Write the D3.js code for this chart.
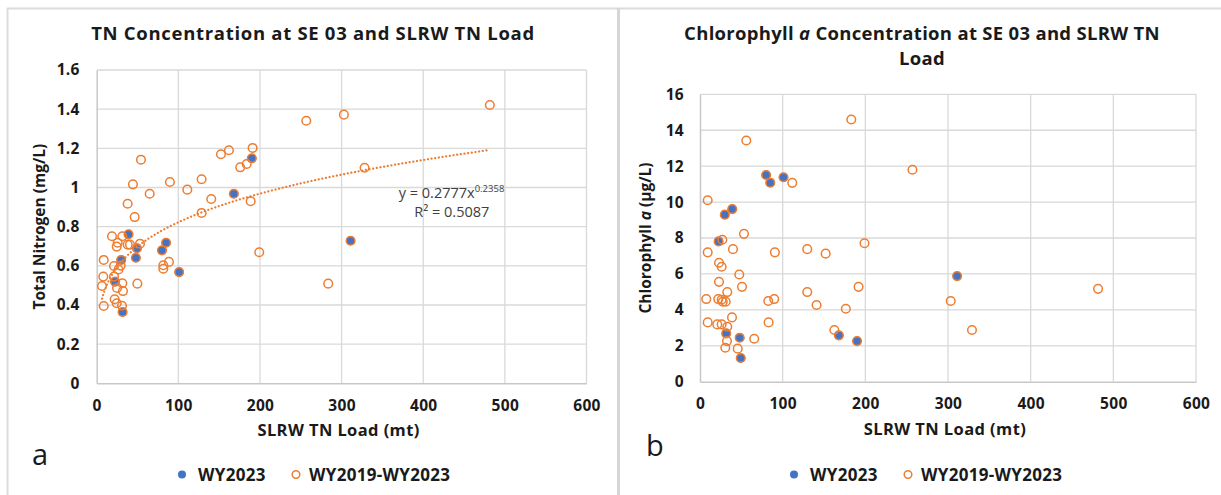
<!DOCTYPE html>
<html lang="en">
<head>
    <meta charset="UTF-8">
    <title>SE 03 and SLRW TN Load</title>
    <script src="https://cdn.jsdelivr.net/npm/d3@7"></script>
    <style>
        body {
            margin: 0;
            background: #fff;
        }

        text {
            font-family: "Open Sans", sans-serif;
            fill: #1a1a1a;
        }

        .tick text {
            font-size: 15.5px;
            font-weight: bold;
            letter-spacing: 0.3px;
        }

        .grid line {
            stroke: #d9d9d9;
            stroke-width: 1.3px;
        }

        .axis path {
            stroke: #c8c8c8;
            stroke-width: 1.5px;
        }

        .title, .axis-title, .legend text {
            font-weight: bold;
        }

        .title {
            font-size: 18.5px;
        }

        .legend text {
            font-size: 17px;
            letter-spacing: 0.3px;
        }
    </style>
</head>
<body>
<div id="svgcontainer"></div>

<script>
    const width = 1221;
    const height = 495;

    const BLUE = "#4472C4";
    const ORANGE = "#ED7D31";

    // tick values
    const xTicks = [0, 100, 200, 300, 400, 500, 600];
    const tnTicks = [0, 0.2, 0.4, 0.6, 0.8, 1, 1.2, 1.4, 1.6];
    const chlaTicks = [0, 2, 4, 6, 8, 10, 12, 14, 16];

    // WY2023 (same loads in both panels)
    const loadWY2023 = [22.5, 30, 31.7, 39, 48, 49.3, 80, 85, 101, 168, 190, 311];
    const tnWY2023 = [0.519, 0.630, 0.364, 0.761, 0.641, 0.690, 0.679, 0.718, 0.568, 0.968, 1.149, 0.728];
    const chlaWY2023 = [7.81, 9.30, 2.69, 9.61, 2.45, 1.32, 11.51, 11.08, 11.38, 2.58, 2.26, 5.88];

    // WY2019-WY2023, panel a (points not already in WY2023)
    const loadTN = [481.6, 302.8, 256.7, 191, 162, 152.2, 54.2, 175.8, 183.7, 328.1, 44.4, 89.7, 128.5, 111,
        64.9, 140.3, 188.6, 37.9, 128.5, 46.5, 18.7, 31.4, 25.7, 24.5, 38, 40.8, 53, 199.1, 8.6, 88.5, 81.6,
        81.6, 21.2, 29.4, 26.7, 8.1, 21.2, 6.5, 24.9, 31.4, 49.8, 283.6, 32.2, 22, 24.5, 8.6, 31];
    const tnAll = [1.421, 1.372, 1.341, 1.202, 1.190, 1.170, 1.142, 1.103, 1.120, 1.101, 1.016, 1.028, 1.042, 0.989,
        0.968, 0.941, 0.930, 0.917, 0.870, 0.849, 0.751, 0.751, 0.718, 0.698, 0.708, 0.708, 0.713, 0.669, 0.630, 0.620, 0.603,
        0.585, 0.599, 0.601, 0.581, 0.545, 0.545, 0.497, 0.487, 0.511, 0.509, 0.509, 0.471, 0.429, 0.409, 0.395, 0.396];

    // WY2019-WY2023, panel b
    const loadChla = [183, 56, 257, 111.6, 9.3, 53.2, 27, 199, 39.9, 129.7, 9.3, 90.6, 152, 23, 26.2, 47.5, 23,
        50.8, 191.8, 481.5, 33, 129.7, 7.6, 22.1, 26.2, 31.1, 27.5, 82.6, 89.8, 141, 303.3, 176.4, 38.7, 9.3,
        20.9, 26.2, 83, 33, 329, 162.5, 65.6, 32.6, 30.6, 45.6];
    const chlaAll = [14.6, 13.43, 11.8, 11.07, 10.1, 8.23, 7.9, 7.71, 7.38, 7.38, 7.2, 7.2, 7.13, 6.62, 6.40, 5.97, 5.56,
        5.28, 5.28, 5.17, 4.99, 4.99, 4.60, 4.60, 4.56, 4.45, 4.45, 4.49, 4.60, 4.27, 4.49, 4.06, 3.58, 3.30,
        3.19, 3.19, 3.30, 3.06, 2.88, 2.88, 2.39, 2.26, 1.89, 1.84];

    // power trendline for panel a
    const trendA = 0.2777;
    const trendB = 0.2358;
    const trendR2 = 0.5087;

    const legendLabels = ["WY2023", "WY2019-WY2023"];

    const svg = d3.select("#svgcontainer")
        .append("svg")
        .attr("width", width)
        .attr("height", height);

    // panel frames
    svg.append("line").attr("x1", 7).attr("x2", width).attr("y1", 8.5).attr("y2", 8.5)
        .attr("stroke", "#dcdcdc").attr("stroke-width", 2);
    svg.append("line").attr("x1", 7.5).attr("x2", 7.5).attr("y1", 8).attr("y2", height)
        .attr("stroke", "#dcdcdc").attr("stroke-width", 2);
    svg.append("line").attr("x1", 618.5).attr("x2", 618.5).attr("y1", 8).attr("y2", height)
        .attr("stroke", "#d6d6d6").attr("stroke-width", 3);

    function zip(xs, ys) {
        return xs.map(function (x, i) {
            return {x: x, y: ys[i]};
        });
    }

    function drawPanel(p) {
        const x = d3.scaleLinear().domain([0, 600]).range([p.left, p.right]);
        const y = d3.scaleLinear().domain([0, p.yMax]).range([p.bottom, p.top]);

        const g = svg.append("g");

        const grid = g.append("g").attr("class", "grid");
        grid.selectAll("line.h")
            .data(p.yTicks.slice(1))
            .enter().append("line")
            .attr("class", "h")
            .attr("x1", p.left).attr("x2", p.right)
            .attr("y1", function (d) { return y(d); })
            .attr("y2", function (d) { return y(d); });
        grid.selectAll("line.v")
            .data(xTicks.slice(1))
            .enter().append("line")
            .attr("class", "v")
            .attr("y1", p.top).attr("y2", p.bottom)
            .attr("x1", function (d) { return x(d); })
            .attr("x2", function (d) { return x(d); });

        g.append("g")
            .attr("class", "axis")
            .attr("transform", "translate(0," + p.bottom + ")")
            .call(d3.axisBottom(x).tickValues(xTicks).tickSize(0).tickPadding(p.xPad).tickFormat(d3.format("d")))
            .call(function (a) { a.selectAll("text").attr("font-family", null).attr("font-size", null); });

        g.append("g")
            .attr("class", "axis")
            .attr("transform", "translate(" + p.left + ",0)")
            .call(d3.axisLeft(y).tickValues(p.yTicks).tickSize(0).tickPadding(p.yPad).tickFormat(p.yFormat))
            .call(function (a) { a.selectAll("text").attr("font-family", null).attr("font-size", null); });

        // WY2023 filled markers
        g.selectAll("circle.recent")
            .data(zip(loadWY2023, p.recent))
            .enter().append("circle")
            .attr("class", "recent")
            .attr("cx", function (d) { return x(d.x); })
            .attr("cy", function (d) { return y(d.y); })
            .attr("r", 4.6)
            .attr("fill", BLUE);

        // WY2019-WY2023 hollow markers (all years, includes WY2023)
        const all = zip(p.loads, p.values).concat(zip(loadWY2023, p.recent));
        g.selectAll("circle.all")
            .data(all)
            .enter().append("circle")
            .attr("class", "all")
            .attr("cx", function (d) { return x(d.x); })
            .attr("cy", function (d) { return y(d.y); })
            .attr("r", 4.3)
            .attr("fill", "none")
            .attr("stroke", ORANGE)
            .attr("stroke-width", 1.5);

        if (p.trend) {
            const ext = d3.extent(all, function (d) { return d.x; });
            const pts = d3.range(ext[0], ext[1], 2).concat([ext[1]]);
            const line = d3.line()
                .x(function (d) { return x(d); })
                .y(function (d) { return y(trendA * Math.pow(d, trendB)); });
            g.append("path")
                .datum(pts)
                .attr("d", line)
                .attr("fill", "none")
                .attr("stroke", ORANGE)
                .attr("stroke-width", 2.2)
                .attr("stroke-linecap", "round")
                .attr("stroke-dasharray", "0.1,3.6");

            const eq = g.append("text")
                .attr("x", x(370))
                .attr("y", y(0.945))
                .style("font-size", "14.5px")
                .style("fill", "#404040");
            eq.append("tspan").text("y = " + trendA + "x");
            eq.append("tspan").attr("dy", -6).style("font-size", "9.5px").text(trendB);

            g.append("text")
                .attr("x", x(389))
                .attr("y", y(0.85))
                .style("font-size", "14.5px")
                .style("fill", "#404040")
                .text("R\u00B2 = " + trendR2);
        }

        // titles
        const title = g.append("text")
            .attr("class", "title")
            .attr("text-anchor", "middle")
            .attr("x", p.titleX)
            .attr("y", 40)
            .style("letter-spacing", p.titleSpacing);
        p.title.forEach(function (ln, i) {
            const t = title.append("tspan").attr("x", p.titleX).attr("dy", i === 0 ? 0 : 25);
            ln.forEach(function (seg) {
                t.append("tspan").style("font-style", seg.italic ? "italic" : null).text(seg.text);
            });
        });

        g.append("text")
            .attr("class", "axis-title")
            .attr("text-anchor", "middle")
            .attr("x", (p.left + p.right) / 2 - 3)
            .attr("y", p.bottom + 53)
            .style("font-size", "16.5px")
            .style("letter-spacing", "0.4px")
            .text("SLRW TN Load (mt)");

        const yt = g.append("text")
            .attr("class", "axis-title")
            .attr("text-anchor", "middle")
            .attr("transform", "translate(" + p.yTitleX + "," + ((p.top + p.bottom) / 2) + ") rotate(-90)")
            .style("font-size", "15.5px");
        p.yTitle.forEach(function (seg) {
            yt.append("tspan").style("font-style", seg.italic ? "italic" : null).text(seg.text);
        });

        g.append("text")
            .attr("x", p.letterX)
            .attr("y", p.letterY)
            .style("font-size", "29px")
            .text(p.letter);

        // legend
        const lg = g.append("g").attr("class", "legend");
        lg.append("circle").attr("cx", p.legendX).attr("cy", 474.5).attr("r", 4).attr("fill", BLUE);
        lg.append("text").attr("x", p.legendX + 16).attr("y", 480.5).text(legendLabels[0]);
        lg.append("circle").attr("cx", p.legendX + 114).attr("cy", 474.5).attr("r", 3.8)
            .attr("fill", "none").attr("stroke", ORANGE).attr("stroke-width", 1.5);
        lg.append("text").attr("x", p.legendX + 127).attr("y", 480.5).text(legendLabels[1]);
    }

    drawPanel({
        left: 96.7, right: 586.5, top: 70, bottom: 383.3,
        yMax: 1.6, yTicks: tnTicks, yFormat: d3.format(""),
        xPad: 17, yPad: 17,
        loads: loadTN, values: tnAll, recent: tnWY2023,
        trend: true,
        title: [[{text: "TN Concentration at SE 03 and SLRW TN Load"}]],
        titleX: 313, titleSpacing: "0.7px",
        yTitle: [{text: "Total Nitrogen (mg/L)"}],
        yTitleX: 45,
        letter: "a", letterX: 32, letterY: 465,
        legendX: 182
    });

    drawPanel({
        left: 700, right: 1196, top: 94.3, bottom: 381.7,
        yMax: 16, yTicks: chlaTicks, yFormat: d3.format("d"),
        xPad: 16, yPad: 16,
        loads: loadChla, values: chlaAll, recent: chlaWY2023,
        trend: false,
        title: [[{text: "Chlorophyll "}, {text: "a", italic: true}, {text: " Concentration at SE 03 and SLRW TN"}], [{text: "Load"}]],
        titleX: 922, titleSpacing: "0.3px",
        yTitle: [{text: "Chlorophyll "}, {text: "a", italic: true}, {text: " (\u00B5g/L)"}],
        yTitleX: 651,
        letter: "b", letterX: 646, letterY: 456,
        legendX: 794
    });
</script>

</body>
</html>
